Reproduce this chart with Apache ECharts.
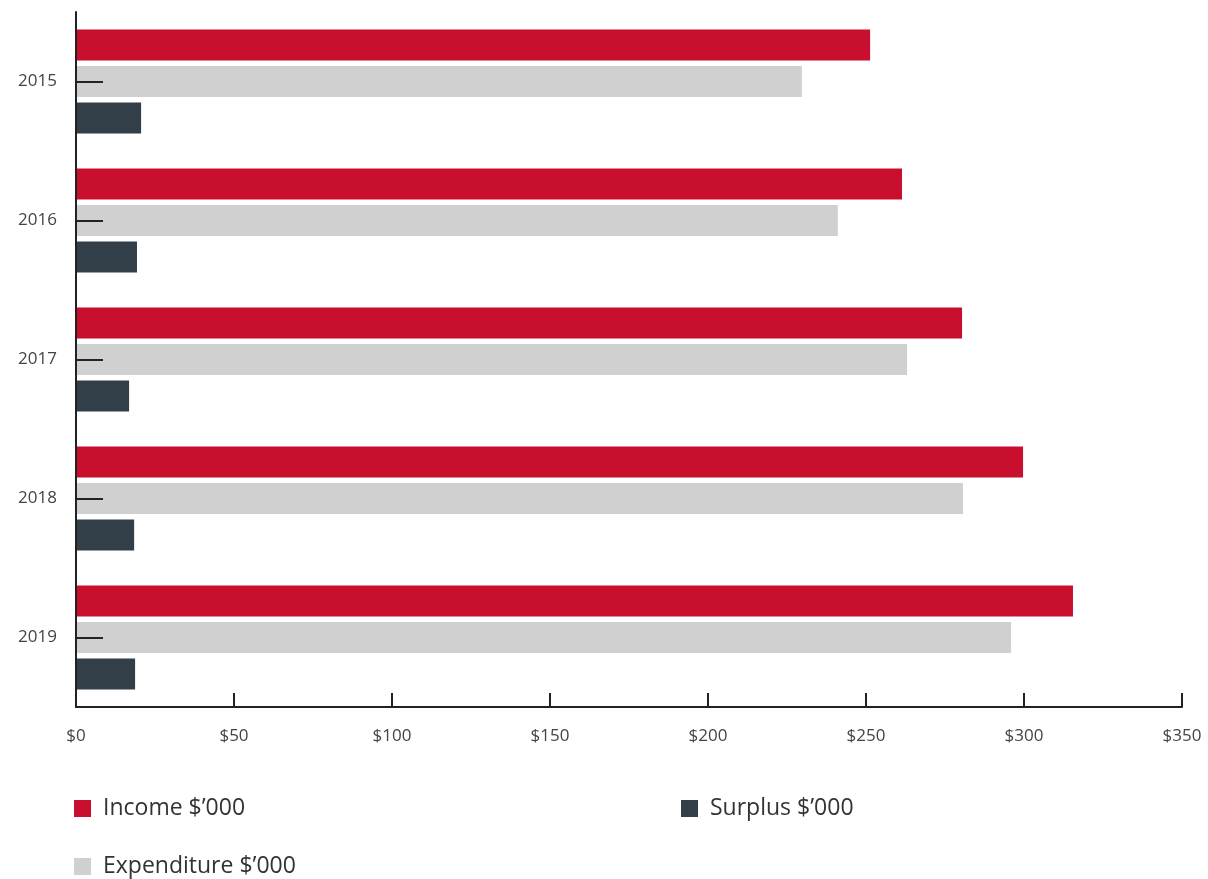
<!DOCTYPE html>
<html>
<head>
<meta charset="utf-8">
<script src="https://cdn.jsdelivr.net/npm/echarts@6/dist/echarts.min.js"></script>
<style>html,body{margin:0;padding:0;background:#fff}#c{width:1208px;height:879px}</style>
</head>
<body>
<div id="c"></div>
<script>
const years = ['2015', '2016', '2017', '2018', '2019'];
const income = [251.3, 261.4, 280.4, 299.7, 315.5];
const expenditure = [229.7, 241.1, 263.0, 280.7, 295.9];
const surplus = [20.6, 19.3, 16.8, 18.4, 18.7];
const xTicks = [0, 50, 100, 150, 200, 250, 300, 350];

const chart = echarts.init(document.getElementById('c'));
const font = '"Open Sans", sans-serif';
const legendText = {fontSize: 23, color: '#333', fontFamily: font, padding: [0, 0, 0, 7]};
chart.setOption({
  animation: false,
  textStyle: {fontFamily: font},
  grid: {left: 76, right: 26, top: 12, bottom: 172},
  legend: [
    {data: ['Income $’000'], left: 74, top: 797, padding: 0, icon: 'rect', itemWidth: 17, itemHeight: 17, textStyle: legendText},
    {data: ['Surplus $’000'], left: 681, top: 797, padding: 0, icon: 'rect', itemWidth: 17, itemHeight: 17, textStyle: legendText},
    {data: ['Expenditure $’000'], left: 74, top: 855, padding: 0, icon: 'rect', itemWidth: 17, itemHeight: 17, textStyle: legendText}
  ],
  xAxis: {
    type: 'value', min: 0, max: 350, interval: 50,
    axisLine: {show: true, lineStyle: {color: '#222', width: 2}},
    axisTick: {show: true, inside: true, length: 14, lineStyle: {color: '#222', width: 2}},
    splitLine: {show: false},
    axisLabel: {fontSize: 17, color: '#444', margin: 21, formatter: v => xTicks.includes(v) ? '$' + v : ''}
  },
  yAxis: {
    type: 'category', data: years, inverse: true, z: 10,
    axisLine: {show: true, lineStyle: {color: '#222', width: 2}},
    axisTick: {show: true, inside: true, length: 27, alignWithLabel: true, lineStyle: {color: '#222', width: 2}},
    axisLabel: {fontSize: 17, color: '#444', margin: 19, padding: [2, 0, 0, 0]}
  },
  series: [
    {name: 'Income $’000', type: 'bar', data: income, itemStyle: {color: '#C8102E'}, barWidth: 31, barGap: '18%', barCategoryGap: '25%'},
    {name: 'Expenditure $’000', type: 'bar', data: expenditure, itemStyle: {color: '#D0D0D0'}, barWidth: 31, barGap: '18%'},
    {name: 'Surplus $’000', type: 'bar', data: surplus, itemStyle: {color: '#333F48'}, barWidth: 31, barGap: '18%'}
  ]
});
</script>
</body>
</html>
